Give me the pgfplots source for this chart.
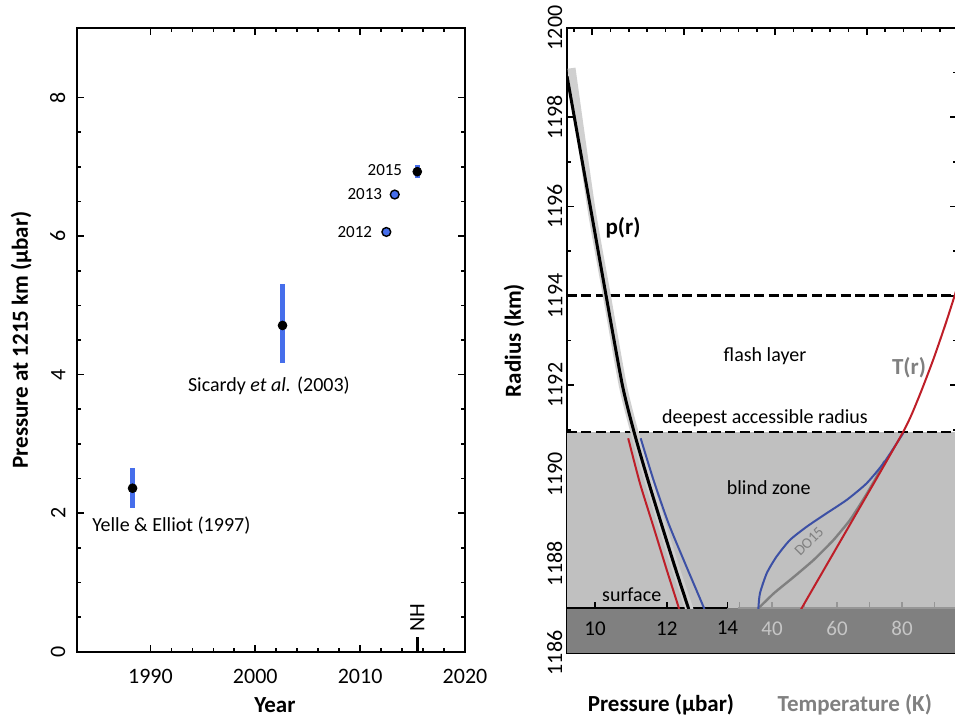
\documentclass[border=0pt]{standalone}
\usepackage{fontspec}
\setmainfont{Carlito}
\usepackage{pgfplots}
\pgfplotsset{compat=1.18}

\definecolor{ptblue}{RGB}{70,110,235}
\definecolor{cred}{RGB}{190,30,40}
\definecolor{cblue}{RGB}{60,80,165}
\definecolor{cgray}{RGB}{128,128,128}
\definecolor{zonegray}{RGB}{192,192,192}
\definecolor{bandgray}{RGB}{208,208,208}
\definecolor{darkband}{RGB}{128,128,128}
\definecolor{ticklight}{RGB}{198,198,198}
\definecolor{taxis}{RGB}{150,150,150}

\newcommand{\fs}[1]{\fontsize{#1}{#1}\selectfont}

\begin{document}
\begin{tikzpicture}
\useasboundingbox (0,0) rectangle (477.5pt,359pt);

% ---- left panel: pressure at 1215 km vs year
\begin{axis}[
  at={(38.5pt,33.15pt)}, anchor=south west, scale only axis,
  width=194pt, height=311.7pt,
  xmin=1983, xmax=2020, ymin=0, ymax=9,
  xtick={1990,2000,2010,2020}, xticklabels={1990,2000,2010,2020},
  minor x tick num=4,
  ytick={0,2,4,6,8}, yticklabels={0,2,4,6,8},
  minor y tick num=3,
  major tick length=3.5pt, minor tick length=2pt,
  tick style={black, line width=0.8pt},
  axis line style={line width=1pt},
  tick label style={font=\fs{11}},
  xticklabel style={yshift=-5pt},
  yticklabel style={rotate=90, anchor=south},
  yticklabel shift=2.3pt,
  xlabel={Year},
  xlabel style={font=\bfseries\fs{11.5}, at={(axis description cs:0.51,-0.085)}, anchor=center},
  ylabel={Pressure at 1215 km (μbar)},
  ylabel style={font=\bfseries\fs{11.5}, at={(axis description cs:-0.144,0.5)}, anchor=center},
  clip=false,
]
\addplot[only marks, mark=*, mark size=2.2pt, mark options={fill=black, draw=black}]
  coordinates {(1988.3,2.36) (2002.6,4.71) (2015.45,6.93)};
\addplot[ptblue, line width=2.2pt] coordinates {(1988.3,2.08) (1988.3,2.65)};
\addplot[ptblue, line width=2.2pt] coordinates {(2002.6,4.17) (2002.6,5.31)};
\addplot[ptblue, line width=2.4pt] coordinates {(2015.45,6.84) (2015.45,7.03)};
\addplot[only marks, mark=*, mark size=2.2pt, mark options={fill=ptblue, draw=black, line width=0.7pt}]
  coordinates {(2012.5,6.06) (2013.3,6.60)};
% New Horizons marker
\addplot[black, line width=1.4pt] coordinates {(2015.45,0) (2015.45,0.21)};
\node[rotate=90, anchor=west, inner sep=0pt, font=\fs{11}] at (axis cs:2015.45,0.28) {NH};

\node[anchor=east, inner sep=0pt, font=\fs{8.5}] at (axis cs:2014.04,6.96) {2015};
\node[anchor=east, inner sep=0pt, font=\fs{8.5}] at (axis cs:2012.13,6.61) {2013};
\node[anchor=east, inner sep=0pt, font=\fs{8.5}] at (axis cs:2011.17,6.06) {2012};
\node[font=\fs{10}] at (axis cs:2001.3,3.84) {Sicardy \textit{et al.} (2003)};
\node[font=\fs{10}] at (axis cs:1992.0,1.82) {Yelle \& Elliot (1997)};
\end{axis}

% ---- right panel: frame, zones, labels (x in pixel units)
\begin{axis}[
  at={(283.5pt,32.5pt)}, anchor=south west, scale only axis,
  width=195pt, height=312.5pt,
  xmin=0, xmax=390, ymin=1186, ymax=1200,
  xtick={25.2,116.7,208.2,299.7},
  minor xtick={6.9,43.5,61.8,80.1,98.4,135,153.3,171.6,189.9,226.5,244.8,263.1,281.4,318,336.3,354.6,372.9},
  xtick pos=right, xticklabels={},
  ytick={1186,1188,1190,1192,1194,1196,1198,1200},
  yticklabels={1186,1188,1190,1192,1194,1196,1198,1200},
  minor y tick num=1,
  major tick length=3.5pt, minor tick length=2pt,
  tick style={black, line width=0.8pt},
  axis line style={line width=1.1pt},
  tick label style={font=\fs{11}},
  yticklabel style={rotate=90, anchor=south},
  yticklabel shift=-1.2pt,
  ylabel={Radius (km)},
  ylabel style={font=\bfseries\fs{11.5}, at={(axis description cs:-0.136,0.5)}, anchor=center},
  clip=false,
]
\addplot[draw=none, fill=zonegray] coordinates {(0,1187) (390,1187) (390,1190.95) (0,1190.95)} -- cycle;
\addplot[draw=none, fill=darkband] coordinates {(0,1186) (390,1186) (390,1187) (0,1187)} -- cycle;
\addplot[black, line width=1.4pt, dash pattern=on 5pt off 2.2pt] coordinates {(0,1194) (390,1194)};
\addplot[black, line width=1.4pt, dash pattern=on 5pt off 2.2pt] coordinates {(0,1190.95) (390,1190.95)};
% surface lines of the pressure and temperature scales
\addplot[black, line width=1pt] coordinates {(0,1187) (160.4,1187)};
\addplot[taxis, line width=1pt] coordinates {(171,1187) (390,1187)};

\node[font=\fs{10}] at (axis cs:198,1192.64) {flash layer};
\node[font=\fs{10}] at (axis cs:198,1191.25) {deepest accessible radius};
\node[font=\fs{10}] at (axis cs:201.7,1189.71) {blind zone};
\node[font=\fs{10}] at (axis cs:64.7,1187.3) {surface};
\node[font=\bfseries\fs{11.5}] at (axis cs:56,1195.53) {p(r)};
\node[font=\bfseries\fs{11.5}, text=cgray] at (axis cs:342,1192.39) {T(r)};
\node[font=\fs{7.5}, text=cgray, rotate=45, inner sep=0pt] at (axis cs:242,1188.5) {DO15};
\node[font=\bfseries\fs{11.5}] at (rel axis cs:0.241,-0.0832) {Pressure (μbar)};
\node[font=\bfseries\fs{11.5}, text=cgray] at (rel axis cs:0.738,-0.0832) {Temperature (K)};
\end{axis}

% ---- pressure profiles (log pressure scale)
\begin{axis}[
  at={(283.5pt,54.82pt)}, anchor=south west, scale only axis,
  width=195pt, height=290.18pt,
  xmode=log, xmin=9.313, xmax=25.09, ymin=1187, ymax=1200,
  axis y line=none, axis x line*=bottom, x axis line style={draw=none},
  xtick={10,12,14}, xticklabels={10,12,14}, xminorticks=false,
  xtick align=inside, major tick length=3pt,
  tick style={black, line width=0.8pt},
  tick label style={font=\fs{10.5}},
  xticklabel style={yshift=-3pt},
]
\addplot[bandgray, line width=4pt, smooth, tension=0.4] coordinates {
(9.42,1199.1) (9.90,1196) (10.30,1194.03) (10.73,1192) (11.06,1190.93)
(11.42,1189.95) (11.81,1188.98) (12.26,1187.93) (12.70,1187.0) (12.76,1186.85)};
\addplot[cred, line width=1pt, smooth, tension=0.4] coordinates {
(10.88,1190.81) (11.21,1189.80) (11.60,1188.83) (12.00,1187.86) (12.36,1187.04) (12.41,1186.9)};
\addplot[cblue, line width=1pt, smooth, tension=0.4] coordinates {
(11.23,1190.81) (11.60,1189.88) (12.05,1188.91) (12.57,1188.01) (13.17,1187.04) (13.24,1186.9)};
\addplot[black, line width=1.5pt, smooth, tension=0.4] coordinates {
(9.313,1198.92) (9.88,1196) (10.28,1194.03) (10.72,1192) (11.05,1190.93)
(11.41,1189.95) (11.80,1188.98) (12.25,1187.93) (12.68,1187.0) (12.74,1186.85)};
\end{axis}

% ---- temperature profiles
\begin{axis}[
  at={(283.5pt,54.82pt)}, anchor=south west, scale only axis,
  width=195pt, height=290.18pt,
  xmin=-23.08, xmax=96.92, ymin=1187, ymax=1200,
  axis y line=none, axis x line*=bottom, x axis line style={draw=none},
  xtick={30,40,50,60,70,80,90}, xticklabels={,40,,60,,80,},
  xtick align=inside, major tick length=3pt,
  tick style={taxis, line width=0.8pt},
  tick label style={font=\fs{10.5}, text=ticklight},
  xticklabel style={yshift=-3pt},
]
\addplot[cgray, line width=1.2pt, smooth, tension=0.3] coordinates {
(35.8,1187.0) (40.6,1187.34) (46.8,1187.71) (52.9,1188.09) (58.9,1188.53)
(64.0,1188.98) (68.6,1189.5) (72.2,1189.95) (74.6,1190.3)};
\addplot[cblue, line width=1pt, smooth, tension=0.4] coordinates {
(35.8,1186.9) (35.8,1187.0) (36.3,1187.34) (38.4,1187.79) (41.4,1188.16) (45.5,1188.53)
(50.7,1188.83) (56.8,1189.13) (63.0,1189.43) (69.1,1189.80) (74.3,1190.25)
(78.4,1190.70) (80.4,1190.93)};
\addplot[cred, line width=1pt, smooth, tension=0.4] coordinates {
(48.6,1186.9) (49.1,1187.0) (64.8,1188.98) (80.4,1190.96) (85.0,1191.7)
(89.5,1192.55) (93.3,1193.35) (96.3,1194.03) (98,1194.45)};
\end{axis}
\end{tikzpicture}
\end{document}
